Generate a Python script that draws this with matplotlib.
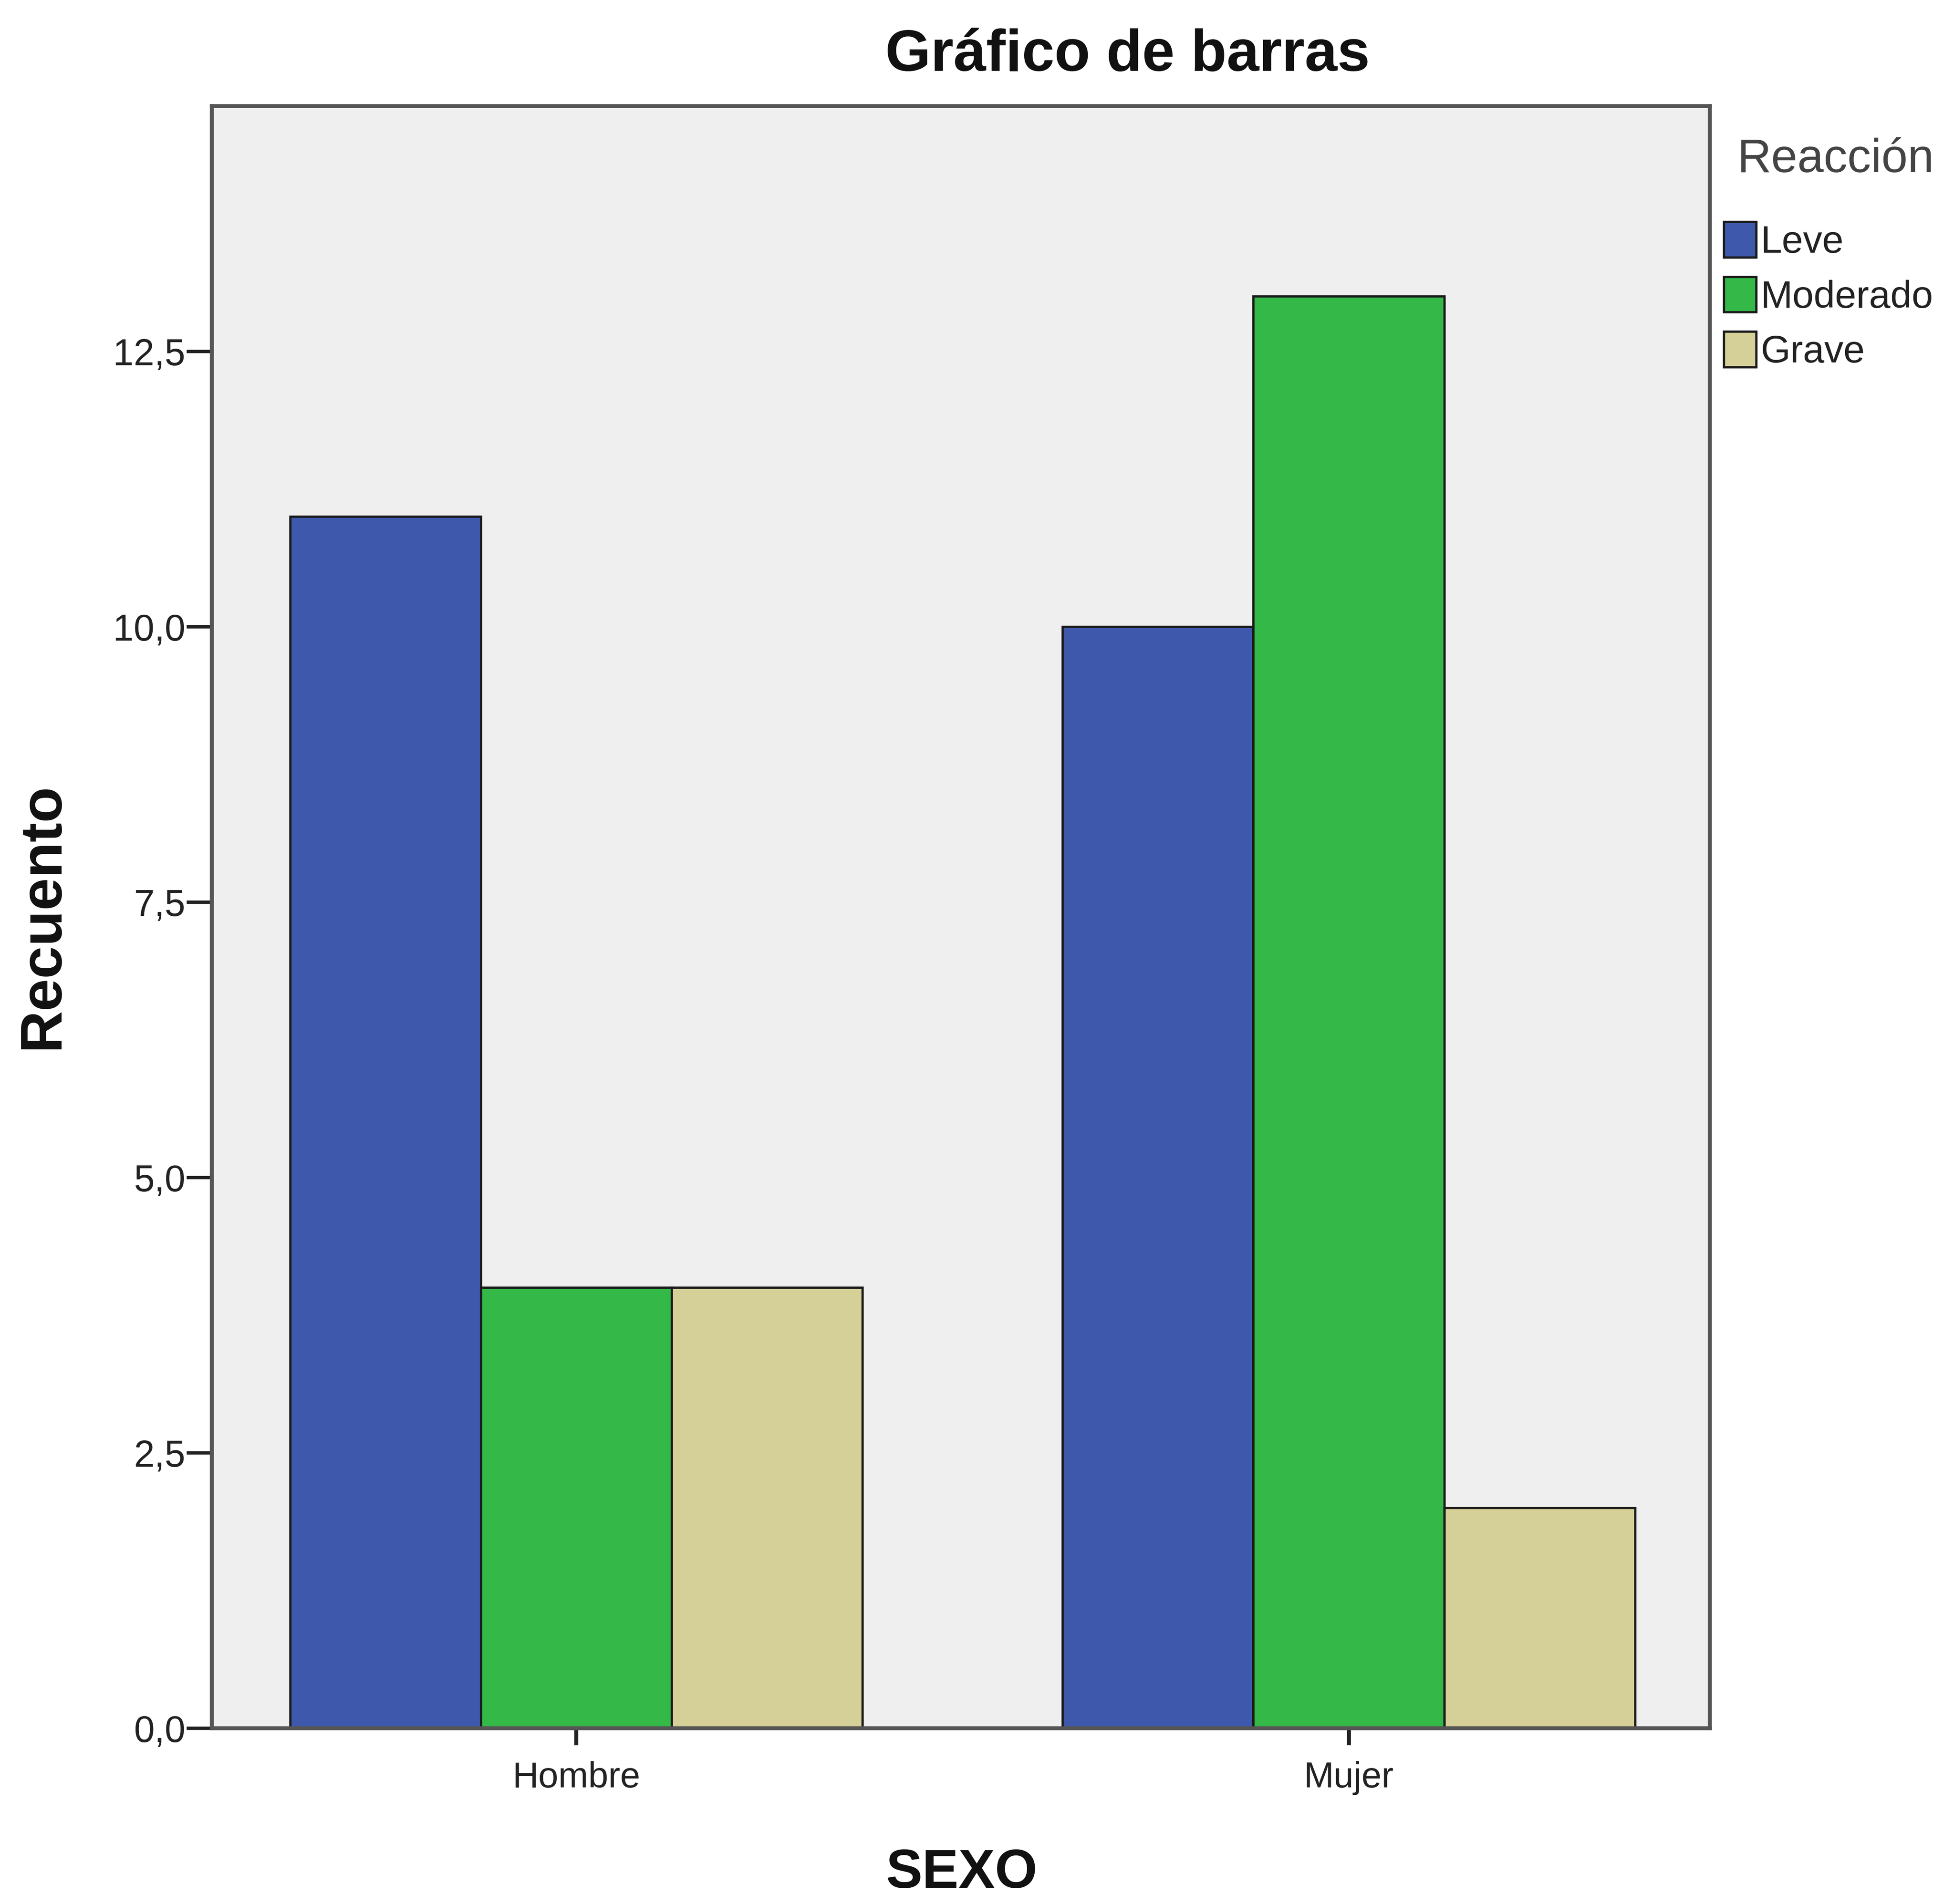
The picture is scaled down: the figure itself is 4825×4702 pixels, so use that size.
import numpy as np
import matplotlib
matplotlib.use("Agg")
import matplotlib.pyplot as plt

plt.rcParams['font.family'] = ['Liberation Sans', 'DejaVu Sans']

# data
sexo = ["Hombre", "Mujer"]
reaccion = ["Leve", "Moderado", "Grave"]
leve = [11, 10]
moderado = [4, 13]
grave = [4, 2]
yticks = [0, 2.5, 5.0, 7.5, 10.0, 12.5]
ytick_labels = ["0,0", "2,5", "5,0", "7,5", "10,0", "12,5"]

colors = ["#3E58AC", "#34B848", "#D5CF98"]

fig = plt.figure(figsize=(48.25, 47.02), dpi=100)
ax = fig.add_axes([0.1084, 0.0923, 0.875 - 0.1084, 0.9443 - 0.0923])
ax.set_facecolor("#EFEFEF")

x = np.arange(len(sexo))
w = 0.247
for i, (vals, lab) in enumerate(zip([leve, moderado, grave], reaccion)):
    ax.bar(x + (i - 1) * w, vals, width=w, color=colors[i], edgecolor="#1a1a1a",
           linewidth=4, label=lab, zorder=2)

ax.set_xlim(-0.472, 1.467)
ax.set_ylim(0, 14.73)
ax.set_yticks(yticks)
ax.set_yticklabels(ytick_labels, fontsize=66, color="#222222")
ax.set_xticks(x)
ax.set_xticklabels(sexo, fontsize=64, color="#222222")
ax.tick_params(axis="y", direction="out", length=45, width=6, color="#222222", pad=2)
ax.tick_params(axis="x", direction="out", length=30, width=7, color="#222222", pad=28)

for s in ax.spines.values():
    s.set_color("#555555")
    s.set_linewidth(7)

fig.text(0.577, 0.9706, "Gráfico de barras", fontsize=104, fontweight="bold",
         ha="center", va="center", color="#111111")
fig.text(0.022, 0.519, "Recuento", fontsize=104, fontweight="bold", rotation=90,
         ha="center", va="center", color="#111111")
fig.text(0.492, 0.016, "SEXO", fontsize=97, fontweight="bold",
         ha="center", va="center", color="#111111")

# legend title drawn apart so its gap to the entries matches
fig.text(0.889, 0.9162, "Reacción", fontsize=84, ha="left", va="center", color="#444444")
leg = fig.legend(loc="upper left", bbox_to_anchor=(0.8725, 0.8935), frameon=False,
                 fontsize=68, handlelength=0.85, handleheight=1.05, handletextpad=0.1,
                 labelspacing=0.42, borderpad=0)
for t in leg.get_texts():
    t.set_color("#222222")

fig.savefig("out.png", dpi=100)
